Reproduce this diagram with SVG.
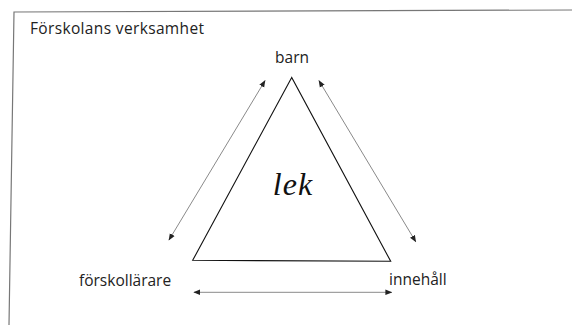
<svg xmlns="http://www.w3.org/2000/svg" width="572" height="325" viewBox="0 0 572 325">
<style>
.lbl{font-family:"Open Sans","Liberation Sans",sans-serif;font-size:15.5px;fill:#222}
.conn{stroke:#8a8a8a;stroke-width:1;fill:none}
.tri{stroke:#111;stroke-width:1.1;fill:none}
</style>
<defs>
<marker id="ah" viewBox="0 0 10 10" refX="9" refY="5" markerWidth="7" markerHeight="7" orient="auto-start-reverse" markerUnits="userSpaceOnUse">
<path d="M0,1 L10,5 L0,9 z" fill="#222"/>
</marker>
</defs>
<rect width="572" height="325" fill="#fff"/>
<g id="frame">
<polyline points="572,10 14,12 9,325" fill="none" stroke="#777" stroke-width="1.2"/>
<text class="lbl" x="30" y="34" textLength="174" lengthAdjust="spacing">Förskolans verksamhet</text>
</g>
<g id="lek">
<polygon class="tri" points="291.7,77.5 192.7,260.3 390.7,261.3"/>
<text x="293" y="195" text-anchor="middle" font-family="'Liberation Serif',serif" font-style="italic" font-size="32" letter-spacing="1" fill="#111">lek</text>
</g>
<g id="barn"><text class="lbl" x="292" y="63" text-anchor="middle">barn</text></g>
<g id="forskollarare"><text class="lbl" x="79" y="286">förskollärare</text></g>
<g id="innehall"><text class="lbl" x="389" y="285">innehåll</text></g>
<g id="connectors">
<line class="conn" x1="265" y1="80.7" x2="169" y2="240" marker-start="url(#ah)" marker-end="url(#ah)"/>
<line class="conn" x1="319" y1="80.7" x2="415.7" y2="241.7" marker-start="url(#ah)" marker-end="url(#ah)"/>
<line class="conn" x1="194" y1="292.3" x2="391.7" y2="292.3" marker-start="url(#ah)" marker-end="url(#ah)"/>
</g>
</svg>
